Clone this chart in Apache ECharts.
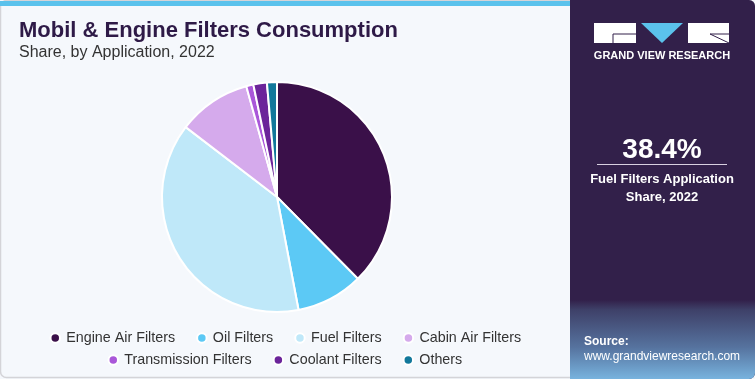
<!DOCTYPE html>
<html>
<head>
<meta charset="utf-8">
<script src="https://cdn.jsdelivr.net/npm/echarts@6/dist/echarts.min.js"></script>
<style>
html,body{margin:0;padding:0;background:#fff;}
#c{width:755px;height:379px;}
</style>
</head>
<body>
<div id="c"></div>
<script>
const categories = ['Engine Air Filters','Oil Filters','Fuel Filters','Cabin Air Filters','Transmission Filters','Coolant Filters','Others'];
const shares = [37.6, 9.4, 38.4, 10.3, 1.0, 1.9, 1.4];
const colors = ['#3a1049','#5cc9f5','#bfe8f9','#d5aaec','#a957d9','#6b249a','#12789b'];
const legendRow1 = categories.slice(0,4);
const legendRow2 = categories.slice(4);

const chart = echarts.init(document.getElementById('c'), null, {renderer:'canvas'});
const data = categories.map((n,i)=>({name:n, value:shares[i], itemStyle:{color:colors[i]}}));
const legendCommon = {
  orient:'horizontal', icon:'circle', itemWidth:12, itemHeight:9.5, itemGap:21,
  textStyle:{fontFamily:'Liberation Sans', fontSize:14.3, color:'#333'},
  selectedMode:false
};
chart.setOption({
  animation:false,
  backgroundColor:'#f5f8fc',
  graphic:[
    {type:'rect', shape:{x:0.5,y:0.5,width:754,height:377, r:6}, style:{fill:'#f5f8fc', stroke:'#d4d4d8', lineWidth:1.5}, z:-10},
    {type:'rect', shape:{x:0,y:1,width:572,height:5}, style:{fill:'#5bc2ec'}, z:-5},
    {type:'rect', shape:{x:570,y:0,width:185,height:379, r:[0,6,6,0]}, style:{fill:'#32204a'}, z:-5},
    {type:'rect', shape:{x:570,y:300,width:185,height:79, r:[0,0,6,0]}, style:{fill:new echarts.graphic.LinearGradient(0,0,0,1,[{offset:0,color:'#32204a'},{offset:0.12,color:'#3e4068'},{offset:0.6,color:'#56739f'},{offset:1,color:'#78b3de'}])}, z:-4},
    {type:'text', left:19, top:20, style:{text:'Mobil & Engine Filters Consumption', font:'bold 22px "Liberation Sans"', fill:'#2e1a47'}},
    {type:'text', left:19, top:45, style:{text:'Share, by Application, 2022', font:'16px "Liberation Sans"', fill:'#333'}},
    // logo
    {type:'rect', shape:{x:594,y:23,width:42,height:20}, style:{fill:'#ffffff'}},
    {type:'polyline', shape:{points:[[636,34],[613,34],[613,43]]}, style:{stroke:'#32204a', lineWidth:1, fill:null}},
    {type:'polygon', shape:{points:[[641,23],[683,23],[662,43]]}, style:{fill:'#5bc2ec'}},
    {type:'rect', shape:{x:688,y:23,width:41,height:20}, style:{fill:'#ffffff'}},
    {type:'polyline', shape:{points:[[729,43],[710,34],[729,34]]}, style:{stroke:'#32204a', lineWidth:1, fill:null}},
    {type:'text', x:662, y:56, style:{text:'GRAND VIEW RESEARCH', font:'bold 11px "Liberation Sans"', fill:'#ffffff', align:'center', verticalAlign:'middle'}},
    {type:'text', x:662, y:150, style:{text:'38.4%', font:'bold 28px "Liberation Sans"', fill:'#ffffff', align:'center', verticalAlign:'middle'}},
    {type:'line', shape:{x1:597,y1:164.5,x2:727,y2:164.5}, style:{stroke:'#d8d0e0', lineWidth:1}},
    {type:'text', x:662, y:179, style:{text:'Fuel Filters Application', font:'bold 13px "Liberation Sans"', fill:'#ffffff', align:'center', verticalAlign:'middle'}},
    {type:'text', x:662, y:197, style:{text:'Share, 2022', font:'bold 13px "Liberation Sans"', fill:'#ffffff', align:'center', verticalAlign:'middle'}},
    {type:'text', x:584, y:342, style:{text:'Source:', font:'bold 12px "Liberation Sans"', fill:'#ffffff', align:'left', verticalAlign:'middle'}},
    {type:'text', x:584, y:357, style:{text:'www.grandviewresearch.com', font:'12px "Liberation Sans"', fill:'#ffffff', align:'left', verticalAlign:'middle'}}
  ],
  legend:[
    Object.assign({data:legendRow1, left:44.5, top:326}, legendCommon),
    Object.assign({data:legendRow2, left:102.5, top:348}, legendCommon)
  ],
  series:[{
    type:'pie',
    center:[277,197],
    radius:[0,115],
    startAngle:90,
    clockwise:true,
    label:{show:false},
    labelLine:{show:false},
    itemStyle:{borderColor:'#ffffff', borderWidth:2},
    emphasis:{disabled:true},
    data:data
  }]
});
</script>
</body>
</html>
